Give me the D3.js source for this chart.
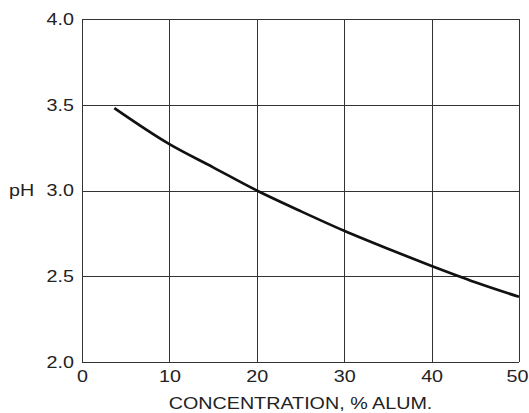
<!DOCTYPE html>
<html>
<head>
<meta charset="utf-8">
<script src="https://cdn.jsdelivr.net/npm/d3@7"></script>
<style>
  html, body { margin: 0; padding: 0; background: #fff; }
  svg { display: block; }
  text { font-family: "Liberation Sans", Arial, Helvetica, sans-serif; fill: #222; }
</style>
</head>
<body>
<svg id="chart" width="529" height="413"></svg>
<script>
// Data
const concentration = [3.7, 10, 15, 20, 25, 30, 35, 40, 45, 50];
const ph = [3.48, 3.27, 3.135, 3.0, 2.88, 2.765, 2.66, 2.56, 2.465, 2.38];
const xTicks = [0, 10, 20, 30, 40, 50];
const yTicks = [2.0, 2.5, 3.0, 3.5, 4.0];
const xTitle = "CONCENTRATION, % ALUM.";
const yTitle = "pH";

const W = 529, H = 413;
const margin = { top: 19, right: 10, bottom: 51, left: 82 };
const sx = 1.16; // horizontal stretch of the lettering
const fs = 17;

const svg = d3.select("#chart");
const x = d3.scaleLinear().domain([0, 50]).range([margin.left, W - margin.right]);
const y = d3.scaleLinear().domain([2, 4]).range([H - margin.bottom, margin.top]);

// Grid (including frame)
const grid = svg.append("g").attr("stroke", "#333").attr("stroke-width", 1.1).attr("shape-rendering", "crispEdges");
grid.selectAll("line.v").data(xTicks).join("line").attr("class", "v")
  .attr("x1", d => Math.round(x(d)) + 0.5).attr("x2", d => Math.round(x(d)) + 0.5)
  .attr("y1", y(4)).attr("y2", y(2));
grid.selectAll("line.h").data(yTicks).join("line").attr("class", "h")
  .attr("y1", d => Math.round(y(d)) + 0.5).attr("y2", d => Math.round(y(d)) + 0.5)
  .attr("x1", x(0)).attr("x2", x(50));

// Axes (labels only)
const yAxis = svg.append("g")
  .attr("transform", `translate(${x(0) - 8},0)`)
  .call(d3.axisLeft(y).tickValues(yTicks).tickFormat(d3.format(".1f")).tickSize(0).tickPadding(0));
yAxis.select(".domain").remove();
yAxis.selectAll("text")
  .attr("font-size", fs).attr("fill", "#222")
  .attr("font-family", "Liberation Sans, Arial, sans-serif")
  .attr("x", 0)
  .attr("transform", `scale(${sx},1)`);

const xAxis = svg.append("g")
  .attr("transform", `translate(0,${y(2)})`)
  .call(d3.axisBottom(x).tickValues(xTicks).tickFormat(d3.format("d")).tickSize(0).tickPadding(8));
xAxis.select(".domain").remove();
xAxis.selectAll("text")
  .attr("font-size", fs).attr("fill", "#222")
  .attr("font-family", "Liberation Sans, Arial, sans-serif")
  .attr("transform", (d) => d === 50 ? `translate(-2,0) scale(${sx},1)` : `scale(${sx},1)`);

// Titles
svg.append("text")
  .attr("transform", `translate(${(x(0) + x(50)) / 2},408.5) scale(${sx},1)`)
  .attr("text-anchor", "middle")
  .attr("font-size", fs)
  .text(xTitle);

svg.append("text")
  .attr("transform", `translate(9,${y(3)}) scale(${sx},1)`)
  .attr("dy", "0.32em")
  .attr("font-size", fs)
  .text(yTitle);

// Curve
const pts = concentration.map((c, i) => [c, ph[i]]);
const line = d3.line().x(d => x(d[0])).y(d => y(d[1])).curve(d3.curveMonotoneX);
svg.append("path")
  .datum(pts)
  .attr("fill", "none")
  .attr("stroke", "#111")
  .attr("stroke-width", 2.7)
  .attr("d", line);
</script>
</body>
</html>
